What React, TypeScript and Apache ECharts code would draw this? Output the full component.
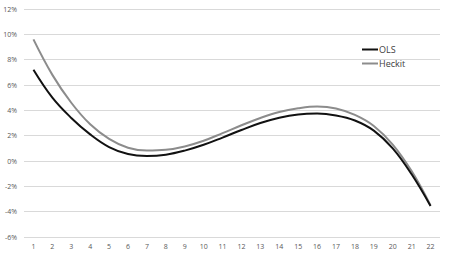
import React, { useEffect, useRef } from "react";
import * as echarts from "echarts";

const categories = ["1","2","3","4","5","6","7","8","9","10","11","12","13","14","15","16","17","18","19","20","21","22"];
const olsValues = [7.2, 5.0, 3.4, 2.1, 1.1, 0.55, 0.4, 0.5, 0.82, 1.28, 1.85, 2.45, 3.0, 3.42, 3.68, 3.75, 3.6, 3.2, 2.4, 1.0, -1.05, -3.55];
const heckitValues = [9.6, 6.8, 4.6, 2.9, 1.75, 1.05, 0.82, 0.88, 1.15, 1.6, 2.2, 2.82, 3.4, 3.87, 4.16, 4.3, 4.15, 3.64, 2.77, 1.3, -0.8, -3.5];
const seriesNames = ["OLS", "Heckit"];

export default function App() {
  const ref = useRef<HTMLDivElement>(null);
  useEffect(() => {
    if (!ref.current) return;
    const chart = echarts.init(ref.current, null, { renderer: "svg" });
    chart.setOption({
      animation: false,
      backgroundColor: "#ffffff",
      grid: { left: 24, right: 13, top: 9, bottom: 16 },
      legend: {
        orient: "vertical",
        left: 357,
        top: 40,
        itemWidth: 16,
        itemHeight: 2,
        itemGap: 5,
        icon: "rect",
        textStyle: { fontFamily: "Open Sans", fontSize: 9, color: "#404040", padding: [0, 0, 0, -4] },
        data: seriesNames,
      },
      xAxis: {
        type: "category",
        data: categories,
        boundaryGap: true,
        axisLine: { show: false },
        axisTick: { show: false },
        axisLabel: { fontFamily: "Open Sans", fontSize: 7, color: "#595959", margin: 6 },
      },
      yAxis: {
        type: "value",
        min: -6,
        max: 12,
        interval: 2,
        axisLine: { show: false },
        axisTick: { show: false },
        axisLabel: { fontFamily: "Open Sans", fontSize: 7, color: "#595959", margin: 7, formatter: (v: number) => v + "%" },
        splitLine: { lineStyle: { color: "#d9d9d9", width: 1 } },
      },
      series: [
        {
          name: seriesNames[0],
          type: "line",
          smooth: 0.4,
          data: olsValues,
          showSymbol: false,
          symbol: "none",
          lineStyle: { color: "#111111", width: 2 },
          itemStyle: { color: "#111111" },
          z: 3,
        },
        {
          name: seriesNames[1],
          type: "line",
          smooth: 0.4,
          data: heckitValues,
          showSymbol: false,
          symbol: "none",
          lineStyle: { color: "#8c8c8c", width: 2 },
          itemStyle: { color: "#8c8c8c" },
          z: 2,
        },
      ],
    });
    return () => chart.dispose();
  }, []);
  return <div ref={ref} style={{ width: 453, height: 253, position: "absolute", left: 0, top: 0 }} />;
}
